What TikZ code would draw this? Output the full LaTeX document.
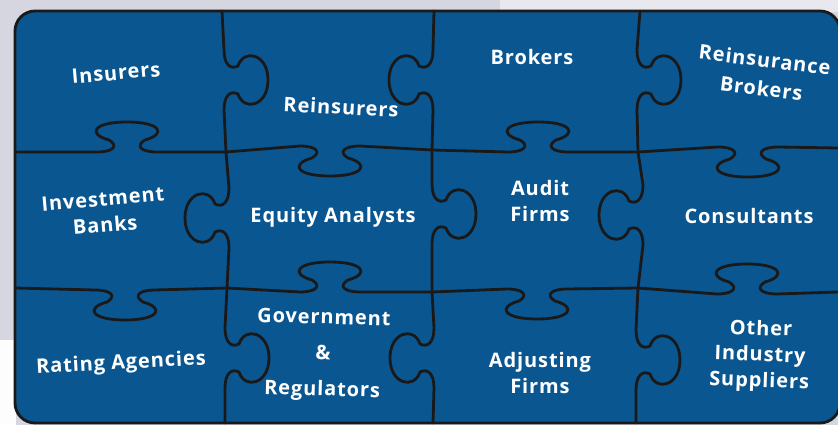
\documentclass[tikz,border=0pt]{standalone}
\usepackage{fontspec}
\newfontfamily\labelfont{Open Sans}[LetterSpace=4.5]
\definecolor{puzzleblue}{RGB}{10,86,145}
\definecolor{bggray}{RGB}{214,214,224}
\definecolor{bglight}{RGB}{232,232,238}

% tab on a horizontal cut: centre x, line y, direction (1 down, -1 up)
\newcommand{\htab}[3]{%
  -- ({#1-30},{#2})
  .. controls ({#1-14},{#2}) and ({#1-8},{#2+(#3)*6}) .. ({#1-18},{#2+(#3)*12})
  .. controls ({#1-40},{#2+(#3)*18}) and ({#1-34},{#2+(#3)*30}) .. ({#1},{#2+(#3)*30})
  .. controls ({#1+34},{#2+(#3)*30}) and ({#1+40},{#2+(#3)*18}) .. ({#1+18},{#2+(#3)*12})
  .. controls ({#1+8},{#2+(#3)*6}) and ({#1+14},{#2}) .. ({#1+30},{#2})}

% tab on a vertical cut: centre y, line x, direction (1 right, -1 left)
\newcommand{\vtab}[3]{%
  -- ({#2},{#1-30})
  .. controls ({#2},{#1-16}) and ({#2+(#3)*6},{#1-10}) .. ({#2+(#3)*14},{#1-14})
  .. controls ({#2+(#3)*20},{#1-32}) and ({#2+(#3)*44},{#1-26}) .. ({#2+(#3)*44},{#1})
  .. controls ({#2+(#3)*44},{#1+26}) and ({#2+(#3)*20},{#1+32}) .. ({#2+(#3)*14},{#1+14})
  .. controls ({#2+(#3)*6},{#1+10}) and ({#2},{#1+16}) .. ({#2},{#1+30})}

\begin{document}
\begin{tikzpicture}[x=1pt, y=-1pt,
    cut/.style={line width=2.8pt, draw=black!90, line join=round, line cap=round},
    board/.style={cut, fill=puzzleblue, rounded corners=20pt},
    lbl/.style={text=white, align=center, inner sep=0pt,
      font=\labelfont\bfseries\fontsize{20}{26}\selectfont}]
    \useasboundingbox (0,0) rectangle (838,425);

    % Background
    \fill[bggray] (0,0) rectangle (838,425);
    \fill[bglight] (500,0) rectangle (838,12);
    \fill[white!96!bggray] (0,340) rectangle (16,425);

    % Board
    \draw[board] (15,11) rectangle (840,423);

    % Draw the horizontal cuts
    \draw[cut] (15,152) \htab{127}{152}{-1} -- (226,152) \htab{330}{146}{1}
      -- (432,150) \htab{538}{152}{-1} -- (638,152) \htab{748}{147}{1} -- (838,148);
    \draw[cut] (15,288) \htab{125}{290}{1} -- (227,288) \htab{330}{292}{-1}
      -- (432,292) \htab{537}{289}{1} -- (638,288) \htab{747}{294}{-1} -- (838,292);

    % Draw the vertical cuts
    \draw[cut] (222,11) \vtab{80}{224}{1} -- (226,152) \vtab{218}{229}{-1}
      -- (227,288) \vtab{358}{225}{1} -- (225,423);
    \draw[cut] (434,11) \vtab{80}{433}{-1} -- (432,150) \vtab{214}{432}{1}
      -- (432,292) \vtab{358}{434}{-1} -- (433,423);
    \draw[cut] (640,11) \vtab{80}{637}{1} -- (638,152) \vtab{215}{643}{-1}
      -- (638,288) \vtab{360}{636}{1} -- (636,423);

    % Labels
    \node[lbl, rotate=5] (ins) at (116,73) {Insurers};
    \node[lbl, rotate=-3] (reins) at (341,107) {Reinsurers};
    \node[lbl] (brk) at (532,57) {Brokers};
    \node[lbl, rotate=-7] (rbrk) at (763,74) {Reinsurance\\[3pt]Brokers};
    \node[lbl, rotate=5] (inv) at (104,212) {Investment\\Banks};
    \node[lbl] (eq) at (333,217) {Equity Analysts};
    \node[lbl] (aud) at (540,201) {Audit\\Firms};
    \node[lbl] (cons) at (749,216) {Consultants};
    \node[lbl, rotate=3] (rat) at (121,364) {Rating Agencies};
    \node[lbl, rotate=-1.5] (gov) at (323,355) {Government\\[10pt]\&\\[10pt]Regulators};
    \node[lbl] (adj) at (540,373) {Adjusting\\Firms};
    \node[lbl, rotate=-2] (oth) at (760,356) {Other\\Industry\\Suppliers};
\end{tikzpicture}
\end{document}
